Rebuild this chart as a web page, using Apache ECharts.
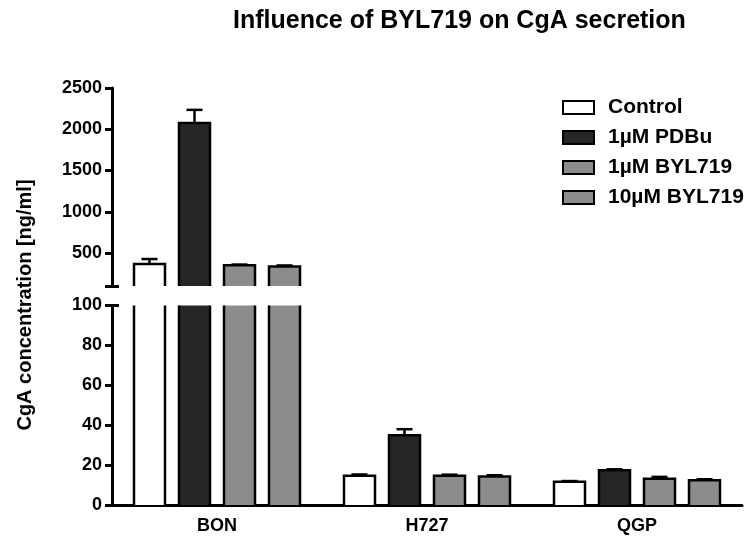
<!DOCTYPE html>
<html>
<head>
<meta charset="utf-8">
<script src="https://cdn.jsdelivr.net/npm/echarts@6/dist/echarts.min.js"></script>
<style>
  html, body { margin: 0; padding: 0; background: #fff; }
  #chart { width: 750px; height: 543px; }
</style>
</head>
<body>
<div id="chart"></div>
<script>
// cell lines and treatments
var cellLines = ['BON', 'H727', 'QGP'];
var treatments = ['Control', '1µM PDBu', '1µM BYL719', '10µM BYL719'];
var colors = ['#ffffff', '#262626', '#8c8c8c', '#8c8c8c'];

// mean CgA [ng/ml], one array per treatment (BON, H727, QGP)
var control   = [367, 14.6, 11.7];
var pdbu      = [2075, 35, 17.4];
var byl1      = [352, 14.7, 13.1];
var byl10     = [335, 14.3, 12.4];
// SEM
var controlErr = [60, 0.7, 0.3];
var pdbuErr    = [160, 3, 0.5];
var byl1Err    = [8, 0.5, 1.0];
var byl10Err   = [14, 0.6, 0.5];

var means = [control, pdbu, byl1, byl10];
var errs = [controlErr, pdbuErr, byl1Err, byl10Err];

// tick labels of the two axis segments
var upperTicks = [500, 1000, 1500, 2000, 2500];
var lowerTicks = [0, 20, 40, 60, 80, 100];

var BAR_W = 31, BAR_STEP = 45, CAP = 16, LW = 2.5;
var FONT = '"Liberation Sans", Arial, sans-serif';

var chart = echarts.init(document.getElementById('chart'));

function outlineSeries(gridIdx, lo, hi) {
    var rows = [];
    means.forEach(function (arr, k) {
        arr.forEach(function (v, c) { rows.push([c, k, v, errs[k][c]]); });
    });
    return {
        type: 'custom',
        name: 'outline' + gridIdx,
        xAxisIndex: gridIdx,
        yAxisIndex: gridIdx * 2,
        silent: true,
        z: 5,
        encode: { x: 0, y: 2 },
        data: rows,
        renderItem: function (params, api) {
            var c = api.value(0), k = api.value(1), v = api.value(2), e = api.value(3);
            if (v < lo) return null;
            var xc = api.coord([c, lo])[0] + (k - 1.5) * BAR_STEP;
            var x0 = xc - BAR_W / 2, x1 = xc + BAR_W / 2;
            var yBase = api.coord([c, Math.max(lo, 0)])[1];
            var yTop = api.coord([c, Math.min(v, hi)])[1];
            var st = { stroke: '#000', lineWidth: LW, fill: null };
            var kids = [];
            if (v <= hi) {
                kids.push({ type: 'polyline', shape: { points: [[x0, yBase], [x0, yTop], [x1, yTop], [x1, yBase]] }, style: st });
                var yErr = api.coord([c, Math.min(v + e, hi)])[1];
                kids.push({ type: 'line', shape: { x1: xc, y1: yTop, x2: xc, y2: yErr }, style: st });
                kids.push({ type: 'line', shape: { x1: xc - CAP / 2, y1: yErr, x2: xc + CAP / 2, y2: yErr }, style: st });
            } else {
                kids.push({ type: 'line', shape: { x1: x0, y1: yBase, x2: x0, y2: yTop }, style: st });
                kids.push({ type: 'line', shape: { x1: x1, y1: yBase, x2: x1, y2: yTop }, style: st });
            }
            return { type: 'group', children: kids };
        }
    };
}

var series = [];
[0, 1].forEach(function (g) {
    treatments.forEach(function (name, k) {
        series.push({
            type: 'bar',
            name: name,
            xAxisIndex: g,
            yAxisIndex: g * 2,
            barWidth: BAR_W,
            barGap: ((BAR_STEP - BAR_W) / BAR_W * 100) + '%',
            itemStyle: { color: colors[k], borderWidth: 0 },
            silent: true,
            data: means[k]
        });
    });
});
series.push(outlineSeries(0, 100, 2500));
series.push(outlineSeries(1, 0, 100));

var axisLineStyle = { color: '#000', width: 3 };
var labelStyle = {
    color: '#000', fontWeight: 'bold', fontSize: 18, fontFamily: FONT,
    formatter: function (v) { return String(v); }
};

var option = {
    animation: false,
    title: {
        text: 'Influence of BYL719 on CgA secretion',
        left: 228,
        top: 4,
        textStyle: { color: '#000', fontWeight: 'bold', fontSize: 25, fontFamily: FONT }
    },
    legend: {
        orient: 'vertical',
        left: 557,
        top: 92,
        itemWidth: 31,
        itemHeight: 13,
        itemGap: 9,
        icon: 'rect',
        textStyle: { color: '#000', fontWeight: 'bold', fontSize: 21, fontFamily: FONT, padding: [0, 0, 0, 9] },
        data: treatments.map(function (t, k) {
            return { name: t, itemStyle: { color: colors[k], borderColor: '#000', borderWidth: 2 } };
        })
    },
    graphic: [{
        type: 'text',
        x: 25,
        y: 305,
        rotation: Math.PI / 2,
        style: {
            text: 'CgA concentration [ng/ml]',
            fill: '#000',
            font: 'bold 20px ' + FONT,
            align: 'center',
            verticalAlign: 'middle'
        }
    }],
    grid: [
        { left: 112, right: 8, top: 88, height: 198 },
        { left: 112, right: 8, top: 305.5, height: 199.5 }
    ],
    xAxis: [
        { type: 'category', gridIndex: 0, data: cellLines, show: false },
        {
            type: 'category', gridIndex: 1, data: cellLines,
            axisLine: { lineStyle: axisLineStyle },
            axisTick: { alignWithLabel: true, length: 6, lineStyle: { color: '#000', width: 3 } },
            axisLabel: { color: '#000', fontWeight: 'bold', fontSize: 18, fontFamily: FONT, margin: 12 }
        }
    ],
    yAxis: [
        {
            type: 'value', gridIndex: 0, min: 100, max: 2500,
            axisLine: { show: true, lineStyle: axisLineStyle },
            axisTick: { show: true, length: 7, customValues: [100].concat(upperTicks), lineStyle: { color: '#000', width: 3 } },
            axisLabel: Object.assign({ customValues: upperTicks, margin: 10 }, labelStyle),
            splitLine: { show: false }
        },
        {
            type: 'value', gridIndex: 0, min: 100, max: 2500, position: 'left',
            axisLine: { show: false },
            axisTick: { show: true, inside: true, length: 7, customValues: [100], lineStyle: { color: '#000', width: 3 } },
            axisLabel: { show: false },
            splitLine: { show: false }
        },
        {
            type: 'value', gridIndex: 1, min: 0, max: 100, interval: 20,
            axisLine: { show: true, lineStyle: axisLineStyle },
            axisTick: { show: true, length: 7, lineStyle: { color: '#000', width: 3 } },
            axisLabel: Object.assign({ customValues: lowerTicks, margin: 10 }, labelStyle),
            splitLine: { show: false }
        },
        {
            type: 'value', gridIndex: 1, min: 0, max: 100, position: 'left',
            axisLine: { show: false },
            axisTick: { show: true, inside: true, length: 7, customValues: [100], lineStyle: { color: '#000', width: 3 } },
            axisLabel: { show: false },
            splitLine: { show: false }
        }
    ],
    series: series
};

chart.setOption(option);
window.onresize = chart.resize;
</script>
</body>
</html>
